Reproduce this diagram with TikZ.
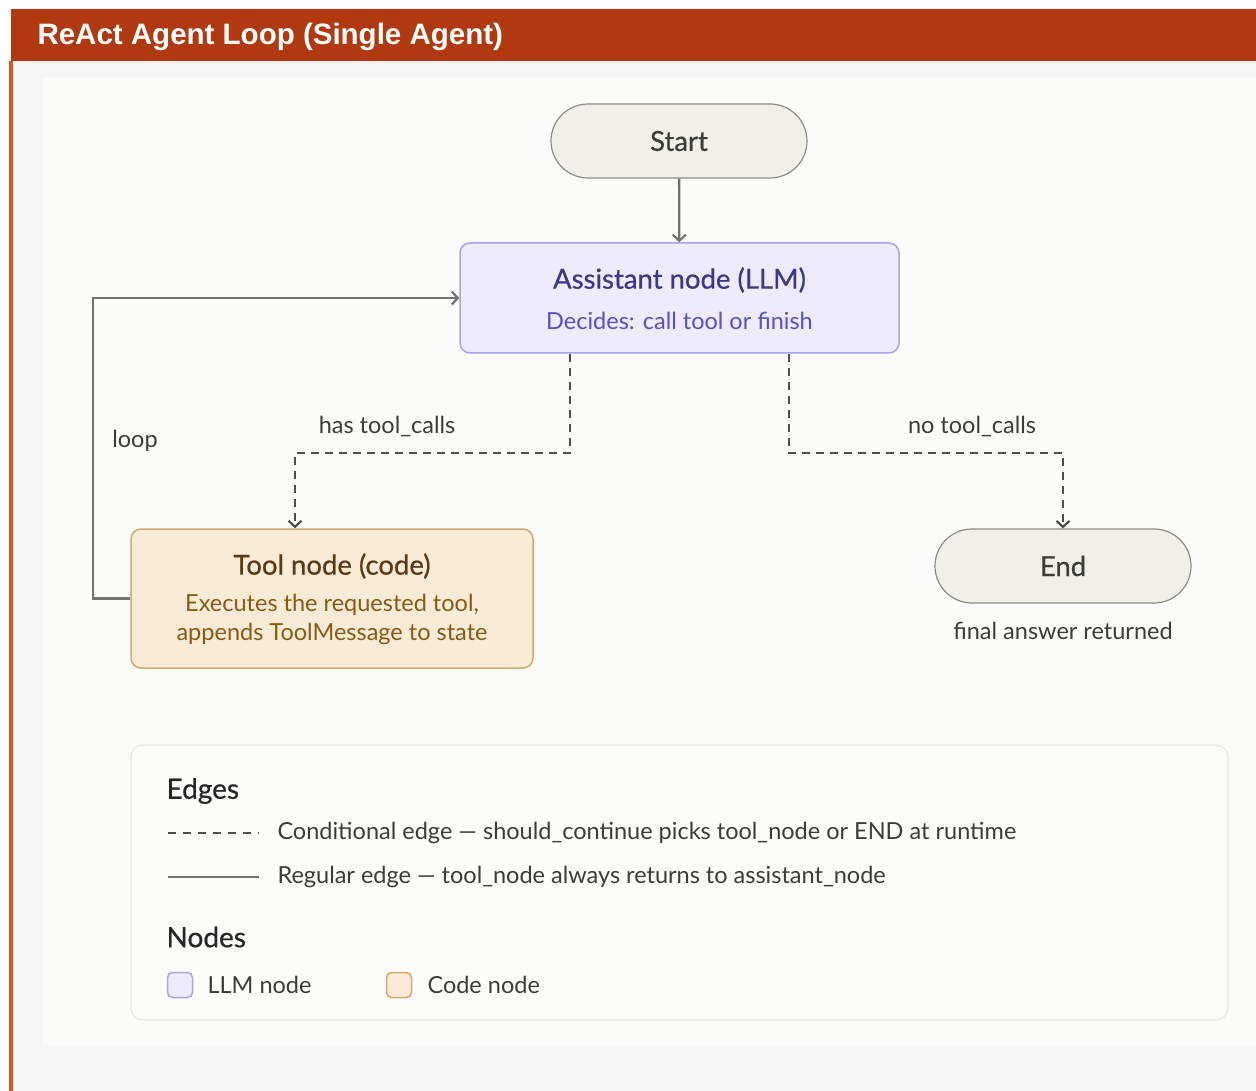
\documentclass[tikz,border=0pt]{standalone}
\usepackage{fontspec}
\setmainfont{Lato}
\newfontfamily\headfont{Liberation Sans}[BoldFont={Liberation Sans Bold}]
\newfontfamily\medfont{Lato}[FakeBold=0.6]
\usetikzlibrary{arrows.meta}

\definecolor{headbar}{HTML}{B0390F}
\definecolor{sidebar}{HTML}{E0541F}
\definecolor{pagebg}{HTML}{F6F6F6}
\definecolor{panelbg}{HTML}{FBFBFA}
\definecolor{edgegray}{HTML}{727270}
\definecolor{dashgray}{HTML}{4D4D4B}
\definecolor{textgray}{HTML}{3C3C3A}
\definecolor{termfill}{HTML}{F1EFEA}
\definecolor{termdraw}{HTML}{8E8C86}
\definecolor{llmfill}{HTML}{EDEBFD}
\definecolor{llmdraw}{HTML}{A9A3EE}
\definecolor{llmtitle}{HTML}{3D378A}
\definecolor{llmsub}{HTML}{5A4FC8}
\definecolor{codefill}{HTML}{FAEBD7}
\definecolor{codedraw}{HTML}{D4A86F}
\definecolor{codetitle}{HTML}{5A3A12}
\definecolor{codesub}{HTML}{8A5A14}
\definecolor{legdraw}{HTML}{E8E8E5}
\definecolor{legfill}{HTML}{FCFCFB}

\tikzset{
  terminal/.style={draw=termdraw, fill=termfill, line width=1.2pt,
    minimum width=256pt, minimum height=74pt, rounded corners=37pt,
    text=textgray, font=\medfont\fontsize{27.5}{32}\selectfont},
  llmbox/.style={draw=llmdraw, fill=llmfill, line width=1.5pt,
    minimum width=439pt, minimum height=110pt, rounded corners=10pt},
  codebox/.style={draw=codedraw, fill=codefill, line width=1.5pt,
    minimum width=402pt, minimum height=139pt, rounded corners=10pt},
  regedge/.style={draw=edgegray, line width=2.3pt},
  condedge/.style={draw=dashgray, line width=2.5pt, dash pattern=on 8pt off 6pt},
  tip/.style={-{Straight Barb[length=6pt,width=13pt,line width=2.2pt]}},
  lbl/.style={text=textgray, font=\fontsize{23.5}{29}\selectfont},
  heading/.style={text=black!85, font=\medfont\fontsize{28}{32}\selectfont},
  swatch/.style={line width=1.5pt, minimum width=25pt, minimum height=25pt, rounded corners=5pt},
}

\begin{document}
\begin{tikzpicture}[x=1pt,y=-1pt]
\useasboundingbox (0,0) rectangle (1256,1091);
% page background, header bar and side rule
\fill[white] (0,0) rectangle (1256,1091);
\fill[pagebg] (13,61) rectangle (1256,1091);
\fill[headbar] (11,9) rectangle (1256,61);
\fill[sidebar] (9,61) rectangle (13,1091);
\fill[panelbg] (43,78) rectangle (1256,1045);
\node[anchor=west, text=white, font=\headfont\bfseries\fontsize{29.5}{34}\selectfont] (title) at (34,37) {ReAct Agent Loop (Single Agent)};

% flow nodes
\node[terminal] (start) at (679,141) {Start};
\node[llmbox] (asst) at (679.5,298) {};
\node[text=llmtitle, font=\medfont\fontsize{27.5}{32}\selectfont] (asstT) at (679.5,280) {Assistant node (LLM)};
\node[text=llmsub, font=\fontsize{23.5}{29}\selectfont] (asstS) at (679.5,321) {Decides: call tool or finish};

\node[codebox] (tool) at (332,598.5) {};
\node[text=codetitle, font=\medfont\fontsize{27.5}{32}\selectfont] (toolT) at (332,566) {Tool node (code)};
\node[text=codesub, font=\fontsize{23.5}{29}\selectfont, align=center] (toolS) at (332,619) {Executes the requested tool,\\appends ToolMessage to state};

\node[terminal] (end) at (1063,566) {End};
\node[lbl] (endnote) at (1063,631) {final answer returned};

% edges
\draw[regedge, tip] (start) -- (asst);
\draw[condedge, tip] ([xshift=-109.5pt]asst.south) -- ++(0,99) -| ([xshift=-37pt]tool.north);
\draw[condedge, tip] ([xshift=109.5pt]asst.south) -- ++(0,99) -| (end.north);
\draw[regedge, tip] (tool.west) -- ++(-37,0) |- (asst.west);

\node[lbl] (hasl) at (387,427) {has tool\_calls};
\node[lbl] (nol) at (972,427) {no tool\_calls};
\node[lbl] (loopl) at (135,441) {loop};

% legend
\draw[legdraw, fill=legfill, line width=1.2pt, rounded corners=12pt] (131,745) rectangle (1228,1020);
\node[heading, anchor=west] (edgesH) at (163,791) {Edges};
\coordinate (c1) at (168,833);
\coordinate (c2) at (259,833);
\draw[condedge, dash pattern=on 8pt off 7pt] (c1) -- (c2);
\node[lbl, anchor=west] (condt) at (274,833) {Conditional edge — should\_continue picks tool\_node or END at runtime};
\coordinate (r1) at (168,877);
\coordinate (r2) at (259,877);
\draw[regedge, line width=2.5pt] (r1) -- (r2);
\node[lbl, anchor=west] (regt) at (274,877) {Regular edge — tool\_node always returns to assistant\_node};
\node[heading, anchor=west] (nodesH) at (163,937) {Nodes};
\node[swatch, draw=llmdraw, fill=llmfill] (sw1) at (180,985) {};
\node[lbl, anchor=west] (sw1t) at (204,985) {LLM node};
\node[swatch, draw=codedraw, fill=codefill] (sw2) at (399,985) {};
\node[lbl, anchor=west] (sw2t) at (424,985) {Code node};
\end{tikzpicture}
\end{document}
